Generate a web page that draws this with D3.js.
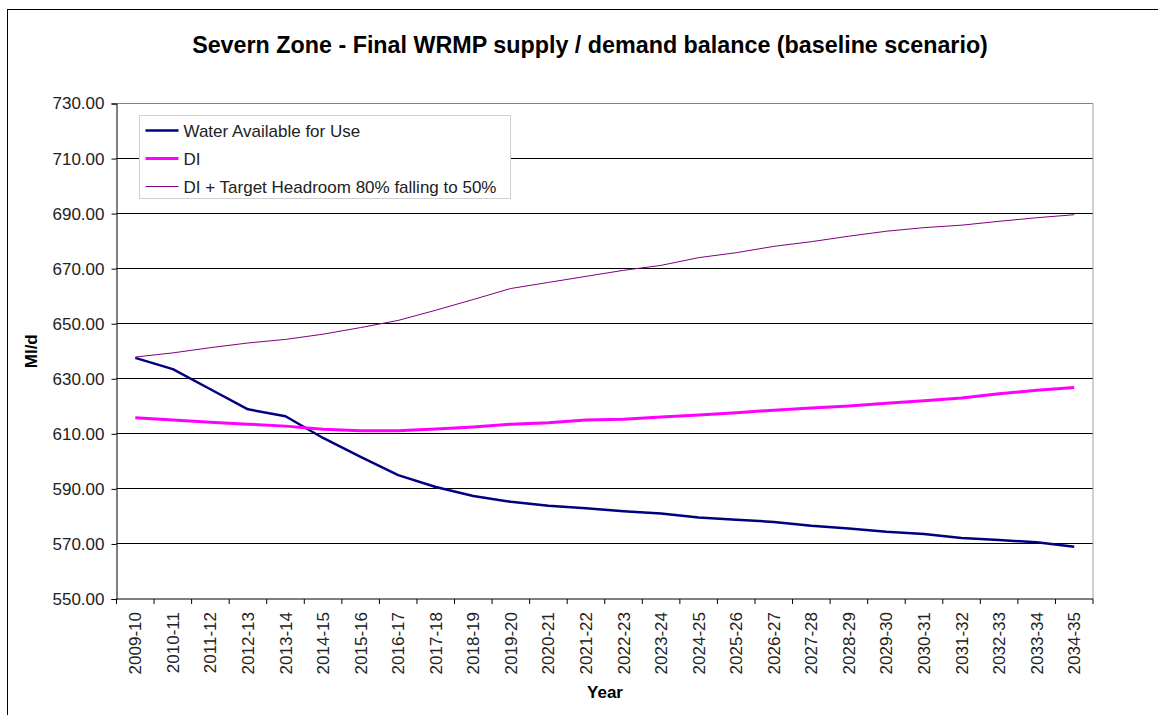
<!DOCTYPE html>
<html>
<head>
<meta charset="utf-8">
<script src="https://cdn.jsdelivr.net/npm/d3@7"></script>
<style>
  body { margin: 0; background: #fff; }
  svg { font-family: "Liberation Sans", Arial, sans-serif; }
  .axis text { fill: #222; }
</style>
</head>
<body>
<svg width="1158" height="715"></svg>
<script>
var years = ["2009-10", "2010-11", "2011-12", "2012-13", "2013-14", "2014-15", "2015-16",
             "2016-17", "2017-18", "2018-19", "2019-20", "2020-21", "2021-22", "2022-23",
             "2023-24", "2024-25", "2025-26", "2026-27", "2027-28", "2028-29", "2029-30",
             "2030-31", "2031-32", "2032-33", "2033-34", "2034-35"];

var wafu = [637.6, 633.5, 626.2, 618.9, 616.4, 608.5, 601.6, 595.0, 590.7, 587.4, 585.3,
            583.9, 583.0, 581.9, 581.1, 579.6, 578.8, 578.0, 576.6, 575.6, 574.4, 573.6,
            572.2, 571.4, 570.6, 569.0];

var di = [615.8, 615.0, 614.2, 613.5, 612.8, 611.7, 611.1, 611.1, 611.8, 612.5, 613.5,
          614.0, 615.0, 615.3, 616.1, 616.8, 617.7, 618.6, 619.4, 620.1, 621.1, 622.0,
          623.0, 624.6, 625.8, 626.8];

var diHeadroom = [637.9, 639.4, 641.3, 643.0, 644.3, 646.2, 648.6, 651.2, 654.9, 658.8, 662.8,
                  665.0, 667.2, 669.4, 671.2, 674.0, 675.8, 678.1, 679.8, 681.8, 683.6, 684.9,
                  685.8, 687.2, 688.5, 689.6];

var yTicks = [550, 570, 590, 610, 630, 650, 670, 690, 710, 730];

var seriesNames = ["Water Available for Use", "DI", "DI + Target Headroom 80% falling to 50%"];

var series = [
    {name: seriesNames[0], values: wafu, color: "#000080", width: 2.5},
    {name: seriesNames[1], values: di, color: "#ff00ff", width: 3},
    {name: seriesNames[2], values: diHeadroom, color: "#800080", width: 1}
];

var svg = d3.select("svg");
var margin = {top: 103.5, right: 65, bottom: 116, left: 116.5};
var width = +svg.attr("width") - margin.left - margin.right;
var height = +svg.attr("height") - margin.top - margin.bottom;

// outer chart frame
svg.append("rect")
    .attr("x", 7.5).attr("y", 9.5)
    .attr("width", 1200).attr("height", 800)
    .attr("fill", "none")
    .attr("stroke", "#000")
    .attr("stroke-width", 1);

var g = svg.append("g").attr("transform", "translate(" + margin.left + "," + margin.top + ")");

var x = d3.scaleBand()
    .domain(years)
    .range([0, width])
    .padding(0);

var y = d3.scaleLinear()
    .domain([550, 730])
    .range([height, 0]);

// gridlines
g.append("g")
    .selectAll("line")
    .data(yTicks.slice(1))
    .enter().append("line")
    .attr("x1", 0).attr("x2", width)
    .attr("y1", function(d) { return Math.round(y(d)); })
    .attr("y2", function(d) { return Math.round(y(d)); })
    .attr("stroke", function(d) { return d == 730 ? "#808080" : "#000"; })
    .attr("stroke-width", 1);

// plot area right border
g.append("line")
    .attr("x1", width).attr("x2", width)
    .attr("y1", 0).attr("y2", height)
    .attr("stroke", "#a0a0a0");

// y axis
g.append("g")
    .attr("class", "axis axis--y")
    .call(d3.axisLeft(y).tickValues(yTicks).tickFormat(d3.format(".2f")).tickSize(5).tickPadding(7))
    .call(function(a) {
        a.select(".domain").attr("stroke", "#000");
        a.selectAll(".tick text").attr("font-size", "17px").attr("font-family", "Liberation Sans, Arial, sans-serif");
    });

// x axis: ticks at category boundaries
var xAxis = g.append("g")
    .attr("class", "axis axis--x")
    .attr("transform", "translate(0," + height + ")");

xAxis.append("line")
    .attr("x1", 0).attr("x2", width)
    .attr("stroke", "#000");

xAxis.selectAll(".bound")
    .data(years.concat(["end"]))
    .enter().append("line")
    .attr("class", "bound")
    .attr("x1", function(d, i) { return i * x.step(); })
    .attr("x2", function(d, i) { return i * x.step(); })
    .attr("y1", 0).attr("y2", 5)
    .attr("stroke", "#000");

xAxis.selectAll(".lab")
    .data(years)
    .enter().append("text")
    .attr("class", "lab")
    .attr("transform", function(d) {
        return "translate(" + (x(d) + x.bandwidth() / 2 + 6) + ",13) rotate(-90)";
    })
    .attr("text-anchor", "end")
    .attr("font-size", "17px")
    .attr("fill", "#222")
    .text(function(d) { return d; });

// lines
var line = d3.line()
    .x(function(d, i) { return x(years[i]) + x.bandwidth() / 2; })
    .y(function(d) { return y(d); });

g.selectAll(".series")
    .data(series)
    .enter().append("path")
    .attr("class", "series")
    .attr("d", function(d) { return line(d.values); })
    .attr("fill", "none")
    .attr("stroke", function(d) { return d.color; })
    .attr("stroke-width", function(d) { return d.width; })
    .attr("stroke-linejoin", "round");

// legend
var legend = svg.append("g").attr("transform", "translate(139.5,115.5)");
legend.append("rect")
    .attr("width", 371).attr("height", 83)
    .attr("fill", "#fff")
    .attr("stroke", "#d0d0d0");

var item = legend.selectAll(".item")
    .data(series)
    .enter().append("g")
    .attr("class", "item")
    .attr("transform", function(d, i) { return "translate(0," + (15 + i * 28) + ")"; });

item.append("line")
    .attr("x1", 6).attr("x2", 39)
    .attr("stroke", function(d) { return d.color; })
    .attr("stroke-width", function(d) { return d.width; });

item.append("text")
    .attr("x", 44)
    .attr("dy", "0.36em")
    .attr("font-size", "17px")
    .attr("fill", "#222")
    .text(function(d) { return d.name; });

// title
svg.append("text")
    .attr("x", 590)
    .attr("y", 53)
    .attr("text-anchor", "middle")
    .attr("font-size", "23.3px")
    .attr("font-weight", "bold")
    .text("Severn Zone - Final WRMP supply / demand balance (baseline scenario)");

// axis titles
svg.append("text")
    .attr("x", 605)
    .attr("y", 698)
    .attr("text-anchor", "middle")
    .attr("font-size", "17px")
    .attr("font-weight", "bold")
    .text("Year");

svg.append("text")
    .attr("transform", "translate(37," + (margin.top + height / 2) + ") rotate(-90)")
    .attr("text-anchor", "middle")
    .attr("font-size", "17px")
    .attr("font-weight", "bold")
    .text("Ml/d");
</script>
</body>
</html>
